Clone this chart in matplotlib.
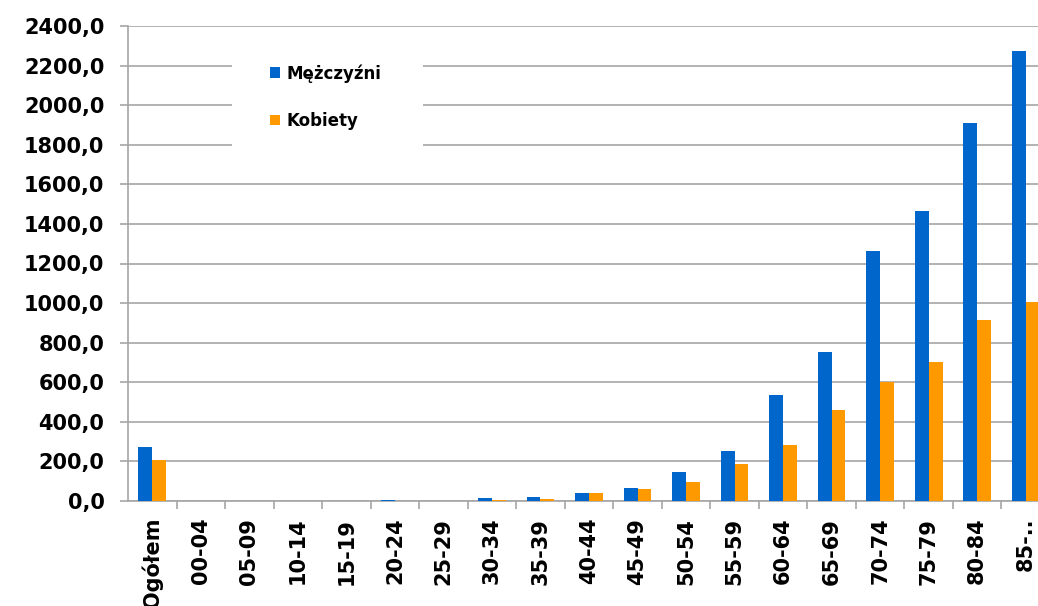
import matplotlib.pyplot as plt
import numpy as np
from matplotlib.patches import Rectangle
from matplotlib.ticker import FuncFormatter, MultipleLocator


CATEGORIES = ["Ogółem", "00-04", "05-09", "10-14", "15-19", "20-24", "25-29",
              "30-34", "35-39", "40-44", "45-49", "50-54", "55-59", "60-64",
              "65-69", "70-74", "75-79", "80-84", "85-.."]
MEN = [272, 0, 0, 0, 0, 6, 0, 17, 22, 39, 64, 147, 252, 535, 754,
       1261, 1464, 1912, 2272]
WOMEN = [206, 0, 0, 0, 0, 1, 0, 7, 12, 39, 59, 95, 189, 284, 461,
         601, 702, 914, 1004]

BLUE = "#0066CC"
ORANGE = "#FF9900"
GRID = "#a6a6a6"
W, H = 1038, 606


def main():
    fig = plt.figure(figsize=(W / 100, H / 100), dpi=100, facecolor="white")
    # axes runs a bit past the right edge, as in the source image
    ax = fig.add_axes([128 / W, 1 - 501 / H, 922 / W, 475 / H])

    x = np.arange(len(CATEGORIES))
    bw = 0.285
    ax.bar(x - bw / 2, MEN, width=bw, color=BLUE, label="Mężczyźni", zorder=3)
    ax.bar(x + bw / 2, WOMEN, width=bw, color=ORANGE, label="Kobiety", zorder=3)

    ax.set_xlim(-0.5, len(CATEGORIES) - 0.5)
    ax.set_ylim(0, 2400)
    ax.yaxis.set_major_locator(MultipleLocator(200))
    ax.yaxis.set_major_formatter(FuncFormatter(lambda v, _: f"{v:.1f}".replace(".", ",")))
    ax.grid(axis="y", color=GRID, linewidth=1.2, zorder=0)
    ax.set_axisbelow(True)

    ax.set_xticks(x)
    ax.set_xticklabels(CATEGORIES, rotation=90, va="top", ha="center")
    ax.set_xticks(np.arange(len(CATEGORIES)) + 0.5, minor=True)
    ax.tick_params(axis="x", which="major", length=0, pad=12)
    ax.tick_params(axis="x", which="minor", length=6, width=1.2, color=GRID)
    ax.tick_params(axis="y", length=6, width=1.2, color=GRID, pad=11)
    for lab in ax.get_xticklabels() + ax.get_yticklabels():
        lab.set_fontsize(15)
        lab.set_fontweight("bold")

    for side in ("top", "right"):
        ax.spines[side].set_visible(False)
    for side in ("left", "bottom"):
        ax.spines[side].set_color(GRID)
        ax.spines[side].set_linewidth(1.2)

    # white box behind the legend hides the gridlines
    fig.patches.append(Rectangle((232 / W, 1 - 150 / H), 191 / W, 110 / H,
                                 transform=fig.transFigure, facecolor="white",
                                 edgecolor="none", zorder=2))
    leg = fig.legend(loc="center left", bbox_to_anchor=(262 / W, 1 - 97 / H),
                     frameon=False, prop={"weight": "bold", "size": 12},
                     handlelength=0.6, handleheight=0.6, handletextpad=0.35,
                     labelspacing=1.75, borderpad=0)
    leg.set_zorder(3)

    fig.savefig("out.png", dpi=100, facecolor="white")
    plt.close(fig)


if __name__ == "__main__":
    main()
